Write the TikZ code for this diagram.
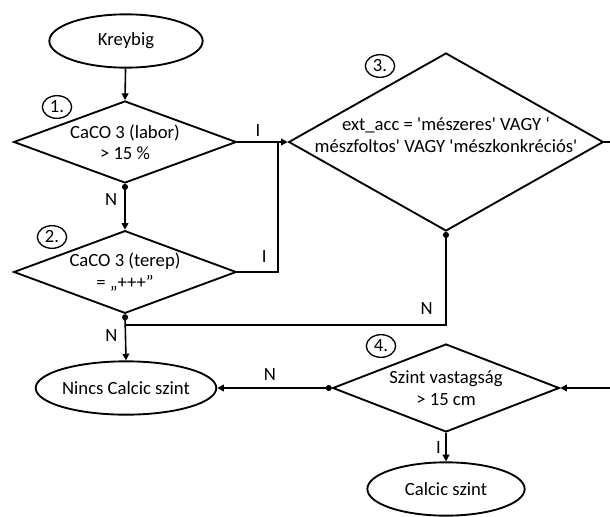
\documentclass[tikz,border=0pt]{standalone}
\usepackage{fontspec}
\setmainfont{Carlito}[Ligatures=TeXOff]
\usetikzlibrary{shapes.geometric,arrows.meta}

\begin{document}
\begin{tikzpicture}[x=0.75pt,y=-0.75pt]
   \tikzstyle{every node}=[font=\fontsize{14}{16}\selectfont]
   \tikzstyle{terminal}=[draw, ellipse, line width=1.4pt, minimum width=115pt, minimum height=40pt, inner sep=0pt]
   \tikzstyle{decision}=[draw, diamond, line width=1.4pt, inner sep=0pt, align=center]
   \tikzstyle{stepno}=[draw, ellipse, line width=1pt, minimum width=22pt, minimum height=17pt, inner sep=0pt]
   \tikzstyle{link}=[line width=1.2pt, -{Triangle[length=5pt,width=5pt]}]
   \tikzstyle{dotlink}=[line width=1.2pt, {Circle[length=4.5pt]}-{Triangle[length=5pt,width=5pt]}]

\useasboundingbox (0,0) rectangle (610,517);

% terminals
\node[terminal] (kreybig) at (126,41) {Kreybig};
\node[terminal] (nincs) at (126,388) {Nincs Calcic szint};
\node[terminal, minimum width=118pt] (calcic) at (446,489) {Calcic szint};

% decisions
\node[decision, minimum width=167pt, minimum height=61.5pt, aspect=2.7] (q1) at (125,142) {CaCO 3 (labor)\\> 15 \%};
\node[decision, minimum width=167pt, minimum height=62pt, aspect=2.7] (q2) at (125,272) {CaCO 3 (terep)\\= „+++”};
\node[decision, minimum width=236pt, minimum height=133.5pt] (q3) at (446,142) {};
\node[align=center] (q3t) at (446,135) {ext\_acc = 'mészeres' VAGY ‘\\mészfoltos' VAGY 'mészkonkréciós'};
\node[decision, minimum width=170pt, minimum height=66pt, aspect=2.58] (q4) at (446,388) {Szint vastagság\\> 15 cm};

% step numbers
\node[stepno] (s1) at (57,107) {1.};
\node[stepno] (s2) at (52,237) {2.};
\node[stepno] (s3) at (380,66) {3.};
\node[stepno] (s4) at (381,346) {4.};

\coordinate (j1) at (278,142);
\coordinate (j2) at (125,325);
\coordinate (e1) at (610,142);
\coordinate (e2) at (610,388);

% connectors
\draw[link] (kreybig) -- (q1.north);
\draw[dotlink] (q1.south) -- (q2.north) node[pos=0.35, left=2pt] (n1) {N};
\draw[link] (q1.east) -- (q3.west) node[pos=0.41, above] (i1) {I};
\draw[line width=1.2pt] (q2.east) -| (j1) node[pos=0.33, above=3pt] (i2) {I};
\draw[line width=1.2pt, {Circle[length=4.5pt]}-] (q3.south) |- (j2) node[pos=0.53, above=4pt] (n2) {N};
\draw[dotlink] (q2.south) -- (nincs.north) node[pos=0.45, left=2pt] (n3) {N};
\draw[line width=1.2pt] (q3.east) -- (e1);
\draw[link] (e2) -- (q4.east);
\draw[dotlink] (q4.west) -- (nincs.east) node[pos=0.54, above=2pt] (n4) {N};
\draw[link] (q4.south) -- (calcic.north) node[midway, left] (i3) {I};

\end{tikzpicture}
\end{document}
